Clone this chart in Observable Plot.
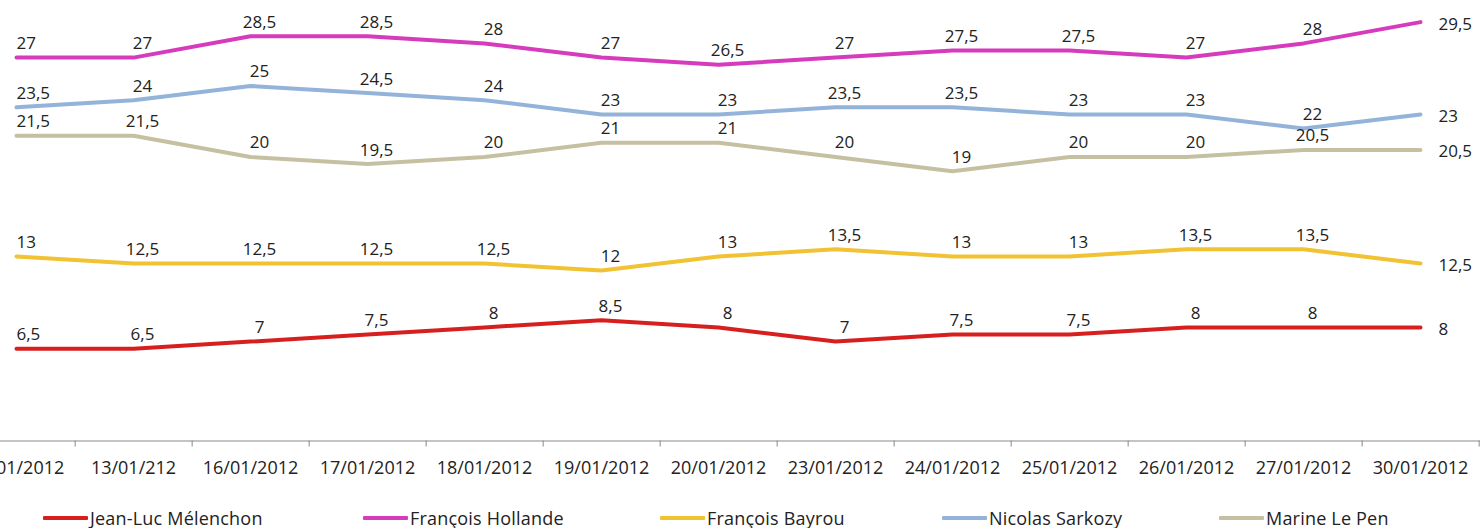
<!DOCTYPE html>
<html>
<head>
<meta charset="utf-8">
<script src="https://cdn.jsdelivr.net/npm/d3@7"></script>
<script src="https://cdn.jsdelivr.net/npm/@observablehq/plot@0.6"></script>
<style>
  html, body { margin: 0; padding: 0; background: #fff; }
  body { width: 1481px; height: 528px; overflow: hidden; position: relative; font-family: "Open Sans", sans-serif; }
  #legend { position: absolute; left: 0; top: 506px; width: 1481px; height: 22px; }
  .item { position: absolute; top: 0; height: 24px; line-height: 24px; display: flex; align-items: center; font-size: 18px; letter-spacing: 0.2px; color: #222; white-space: nowrap; }
  .sw { width: 45px; height: 4px; margin-right: 2px; border-radius: 1px; }
</style>
</head>
<body>
<div id="chart"></div>
<div id="legend"></div>
<script>
// ---- data ----
const dates = ["12/01/2012","13/01/212","16/01/2012","17/01/2012","18/01/2012","19/01/2012","20/01/2012","23/01/2012","24/01/2012","25/01/2012","26/01/2012","27/01/2012","30/01/2012"];
const seriesNames = ["Jean-Luc Mélenchon","François Hollande","François Bayrou","Nicolas Sarkozy","Marine Le Pen"];
const seriesColors = ["#d71f1f","#d63bbd","#f1c232","#93b3da","#c5c0a2"];
const melenchon = [6.5, 6.5, 7, 7.5, 8, 8.5, 8, 7, 7.5, 7.5, 8, 8, 8];
const hollande  = [27, 27, 28.5, 28.5, 28, 27, 26.5, 27, 27.5, 27.5, 27, 28, 29.5];
const bayrou    = [13, 12.5, 12.5, 12.5, 12.5, 12, 13, 13.5, 13, 13, 13.5, 13.5, 12.5];
const sarkozy   = [23.5, 24, 25, 24.5, 24, 23, 23, 23.5, 23.5, 23, 23, 22, 23];
const lepen     = [21.5, 21.5, 20, 19.5, 20, 21, 21, 20, 19, 20, 20, 20.5, 20.5];
const seriesValues = [melenchon, hollande, bayrou, sarkozy, lepen];

const rows = [];
seriesNames.forEach((name, s) => {
  seriesValues[s].forEach((v, i) => rows.push({series: name, date: dates[i], idx: i, value: v}));
});
const fmt = v => String(v).replace(".", ",");
const last = dates.length - 1;

const W = 1481, H = 500;
const step = (1480 - (-45)) / dates.length;

const chart = Plot.plot({
  width: W,
  height: H,
  marginTop: 14.5,
  marginBottom: H - 440.5,
  marginLeft: -45,
  marginRight: 1,
  style: {fontFamily: "Open Sans, sans-serif", fontSize: "17px", color: "#222", background: "#fff"},
  x: {type: "point", domain: dates, padding: 0.5, label: null},
  y: {domain: [0, 30], label: null},
  color: {domain: seriesNames, range: seriesColors},
  marks: [
    Plot.ruleY([0], {stroke: "#8a8a8a", strokeWidth: 1.2}),
    Plot.axisX({ticks: dates, tickSize: 6, dx: step / 2, text: null, stroke: "#8a8a8a", label: null}),
    Plot.axisX({ticks: dates, tickSize: 0, tickPadding: 20, fontSize: 18, fill: "#222", textStroke: "none", label: null, style: {letterSpacing: "0.4px"}}),
    Plot.axisY({ticks: [], label: null, tickSize: 0}),
    Plot.line(rows, {x: "date", y: "value", z: "series", stroke: "series", strokeWidth: 4, curve: "linear", strokeLinecap: "round", strokeLinejoin: "round"}),
    Plot.text(rows.filter(d => d.idx === 0), {x: "date", y: "value", text: d => fmt(d.value), textAnchor: "start", dx: 0, dy: -14, fill: "#222", fontSize: 17}),
    Plot.text(rows.filter(d => d.idx > 0 && d.idx < last), {x: "date", y: "value", text: d => fmt(d.value), dx: 9, dy: -14, fill: "#222", fontSize: 17}),
    Plot.text(rows.filter(d => d.idx === last), {x: "date", y: "value", text: d => fmt(d.value), textAnchor: "start", dx: 18, dy: 2, fill: "#222", fontSize: 17})
  ]
});
document.getElementById("chart").appendChild(chart);

// legend
const legendLeft = [43, 363, 660, 942, 1219];
const legend = document.getElementById("legend");
seriesNames.forEach((name, i) => {
  const it = document.createElement("div");
  it.className = "item";
  it.style.left = legendLeft[i] + "px";
  const sw = document.createElement("span");
  sw.className = "sw";
  sw.style.background = seriesColors[i];
  const tx = document.createElement("span");
  tx.textContent = name;
  it.appendChild(sw); it.appendChild(tx);
  legend.appendChild(it);
});
</script>
</body>
</html>
